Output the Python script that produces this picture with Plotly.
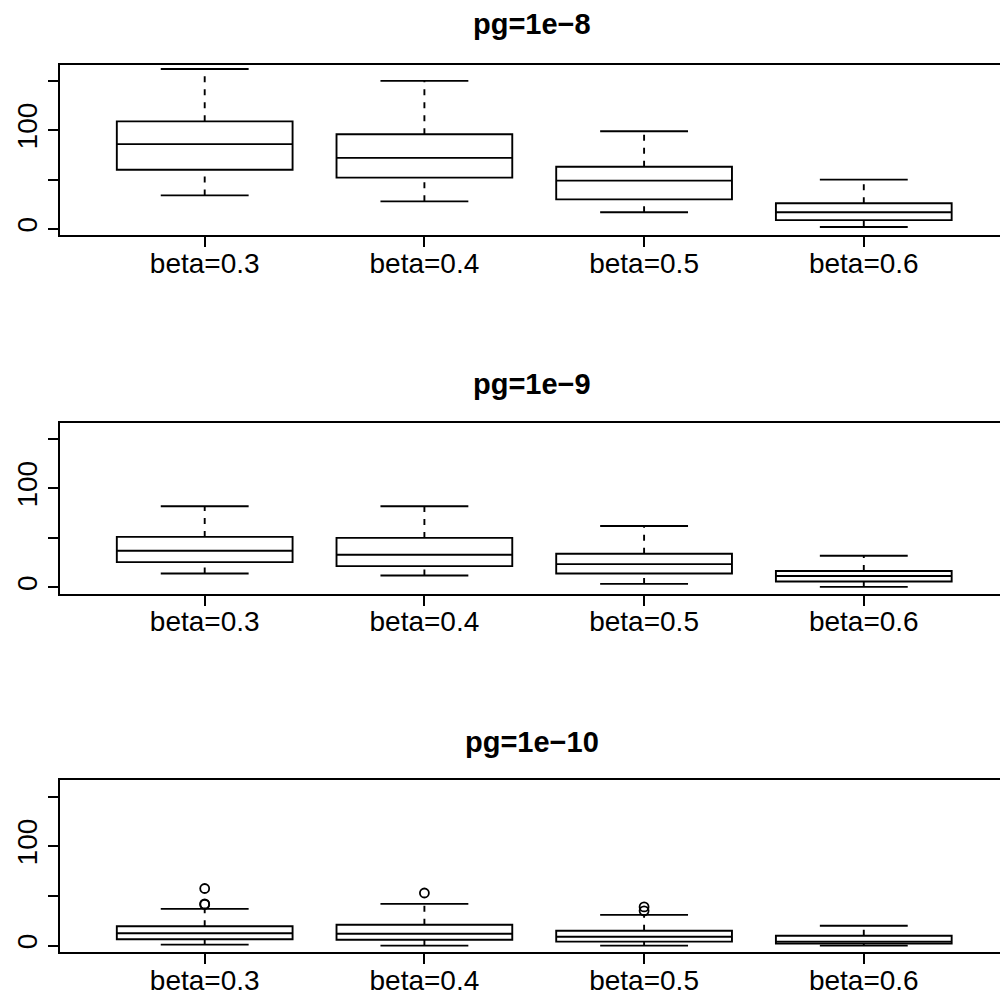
import plotly.graph_objects as go

categories = ["beta=0.3", "beta=0.4", "beta=0.5", "beta=0.6"]
positions = [1, 2, 3, 4]
titles = ["pg=1e\u22128", "pg=1e\u22129", "pg=1e\u221210"]

# panel 1: pg=1e-8
p1_lower = [34, 28, 17, 2]
p1_q1 = [60, 52, 30, 9]
p1_med = [86, 72, 49, 17]
p1_q3 = [109, 96, 63, 26]
p1_upper = [162, 150, 99, 50]

# panel 2: pg=1e-9
p2_lower = [14, 12, 3.5, 0.5]
p2_q1 = [25.5, 21.5, 14, 6]
p2_med = [37, 33, 23.5, 11.5]
p2_q3 = [51, 50, 34, 16.5]
p2_upper = [82, 82, 62, 32]

# panel 3: pg=1e-10
p3_lower = [1, 0, 0, 0]
p3_q1 = [6.5, 6, 4, 2]
p3_med = [12.5, 12, 9, 4]
p3_q3 = [19.5, 21, 15, 10]
p3_upper = [37, 42, 31, 20]
p3_out_x = [1, 1, 1, 2, 3, 3]
p3_out_y = [57.5, 41.5, 42, 53, 35, 39]

panels = [
    (p1_lower, p1_q1, p1_med, p1_q3, p1_upper, [], []),
    (p2_lower, p2_q1, p2_med, p2_q3, p2_upper, [], []),
    (p3_lower, p3_q1, p3_med, p3_q3, p3_upper, p3_out_x, p3_out_y),
]

H = 997.0
# plot areas (top, bottom) in pixels
areas = [(64.7, 235.3), (422.7, 593.7), (780.3, 952.0)]
title_y = [24, 384, 742]

LW = 1.9
FONT = "Liberation Sans, Arial, Helvetica, sans-serif"

fig = go.Figure()
layout = dict(
    width=1000, height=997,
    margin=dict(l=0, r=0, t=0, b=0),
    paper_bgcolor="white", plot_bgcolor="white",
    showlegend=False,
    font=dict(family=FONT, color="black"),
    annotations=[],
)

for k, (lo, q1, med, q3, up, ox, oy) in enumerate(panels):
    xa = "x" if k == 0 else f"x{k+1}"
    ya = "y" if k == 0 else f"y{k+1}"
    fig.add_trace(go.Box(
        x=positions, q1=q1, median=med, q3=q3,
        lowerfence=q1, upperfence=q3,
        width=0.8, whiskerwidth=0, boxpoints=False,
        fillcolor="white", line=dict(color="black", width=LW),
        xaxis=xa, yaxis=ya, hoverinfo="skip",
    ))
    wx, wy, cx, cy = [], [], [], []
    for i, p in enumerate(positions):
        wx += [p, p, None, p, p, None]
        wy += [q3[i], up[i], None, lo[i], q1[i], None]
        cx += [p - 0.2, p + 0.2, None, p - 0.2, p + 0.2, None]
        cy += [up[i], up[i], None, lo[i], lo[i], None]
    fig.add_trace(go.Scatter(x=wx, y=wy, mode="lines",
                             line=dict(color="black", width=LW, dash="6px,7px"),
                             xaxis=xa, yaxis=ya, hoverinfo="skip"))
    fig.add_trace(go.Scatter(x=cx, y=cy, mode="lines",
                             line=dict(color="black", width=LW),
                             xaxis=xa, yaxis=ya, hoverinfo="skip"))
    if ox:
        fig.add_trace(go.Scatter(x=ox, y=oy, mode="markers",
                                 marker=dict(symbol="circle-open", size=9, color="black",
                                             line=dict(width=1.8, color="black")),
                                 xaxis=xa, yaxis=ya, hoverinfo="skip"))
    top, bot = areas[k]
    xkey = "xaxis" if k == 0 else f"xaxis{k+1}"
    ykey = "yaxis" if k == 0 else f"yaxis{k+1}"
    layout[xkey] = dict(
        domain=[0.0597, 1.0], anchor=ya, range=[0.34, 4.62],
        tickmode="array", tickvals=positions, ticktext=categories,
        ticks="outside", ticklen=10, tickwidth=LW, tickcolor="black",
        ticklabelstandoff=-8,
        showline=True, mirror=True, linecolor="black", linewidth=LW,
        showgrid=False, zeroline=False, automargin=False,
        tickfont=dict(size=28, family=FONT, color="black"),
    )
    layout[ykey] = dict(
        domain=[1 - bot / H, 1 - top / H], anchor=xa, range=[-6.4, 166.4],
        tickmode="array", tickvals=[0, 50, 100, 150], ticktext=["0", "", "100", ""],
        tickangle=-90,
        ticks="outside", ticklen=10, tickwidth=LW, tickcolor="black",
        showline=True, mirror=False, linecolor="black", linewidth=LW,
        showgrid=False, zeroline=False, automargin=False,
        tickfont=dict(size=28, family=FONT, color="black"),
    )
    layout["annotations"].append(dict(
        text="<b>" + titles[k] + "</b>", xref="paper", yref="paper",
        x=0.532, y=1 - title_y[k] / H, xanchor="center", yanchor="middle",
        showarrow=False, font=dict(size=29, family=FONT, color="black"),
    ))

fig.update_layout(**layout)
fig.write_html("out.html")
